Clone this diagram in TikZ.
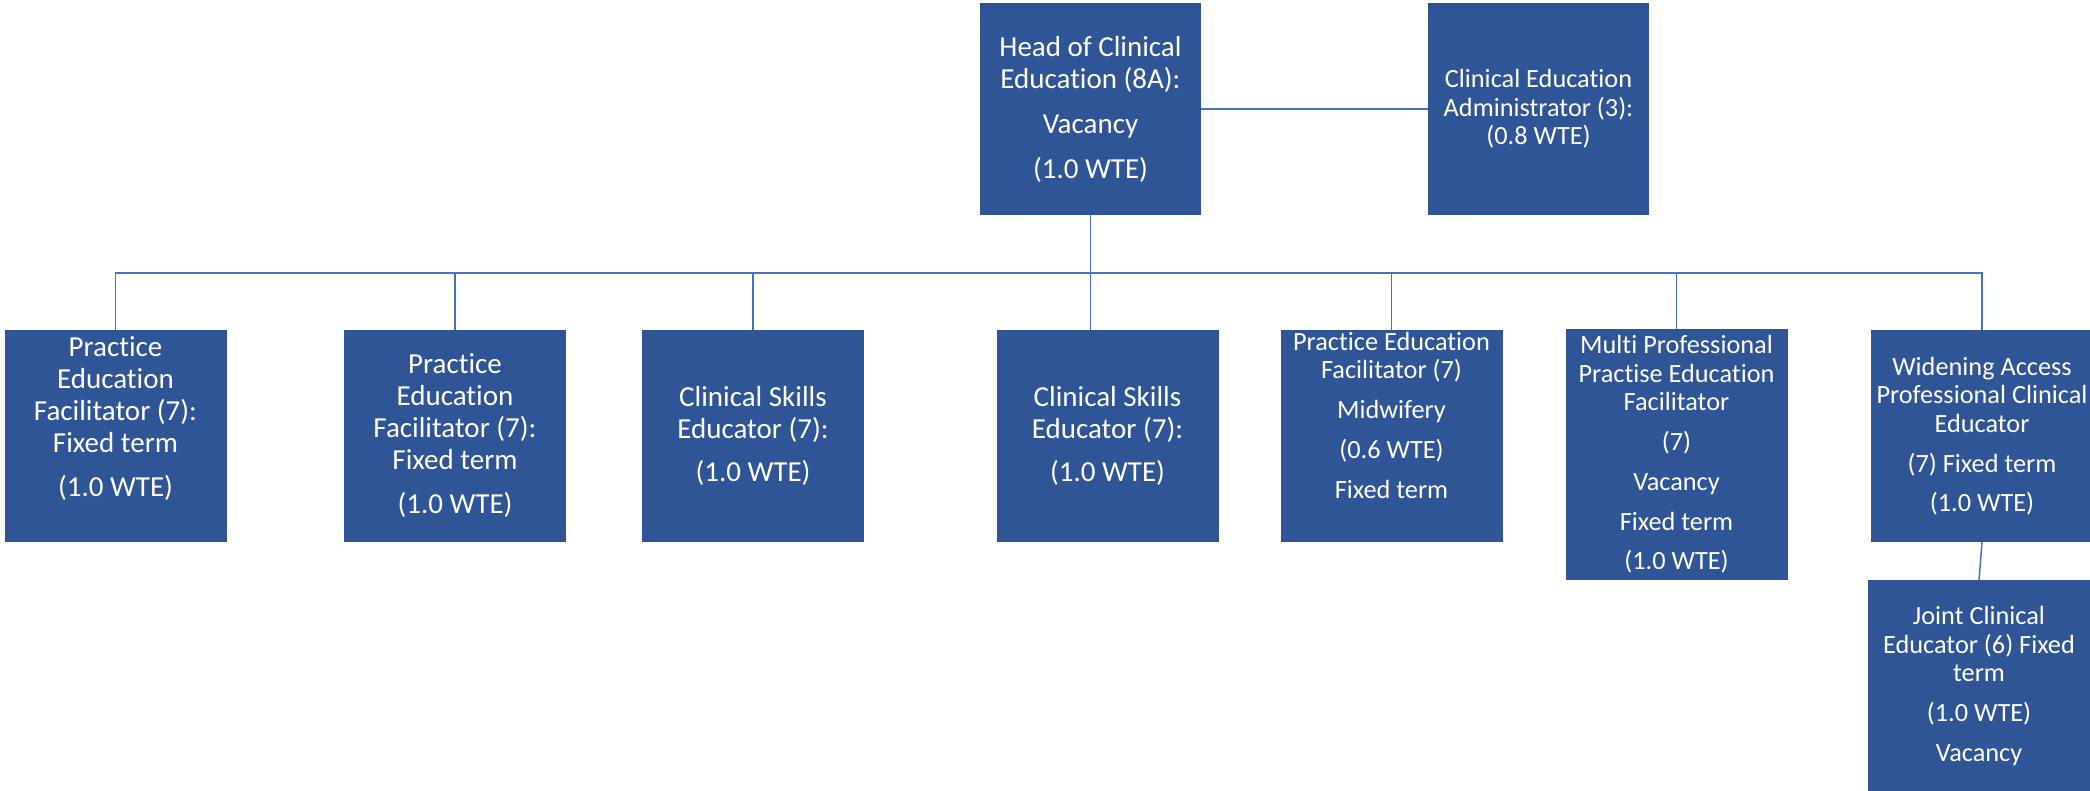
\documentclass[tikz,border=0pt]{standalone}
\usepackage{fontspec}
\setmainfont{Carlito}[Ligatures={NoCommon}]
\definecolor{boxblue}{HTML}{2F5597}
\definecolor{linkblue}{HTML}{4472C4}
\tikzset{
  orgbox/.style={rectangle, fill=boxblue, draw=none, inner sep=0pt, outer sep=0pt, minimum width=222pt, minimum height=212pt},
  bigtxt/.style={text=white, align=center, inner sep=0pt, font=\fontsize{29}{32}\selectfont},
  smalltxt/.style={text=white, align=center, inner sep=0pt, font=\fontsize{26.3}{28.5}\selectfont},
  link/.style={draw=linkblue, line width=1.5pt},
}
\begin{document}
\begin{tikzpicture}[x=1pt,y=-1pt]
\useasboundingbox (0,0) rectangle (2090,790);
\begin{scope}
\clip (0,0) rectangle (2090,790);
% boxes
\node[orgbox, minimum width=221pt] (head) at (1090.5,109) {};
\node[orgbox, minimum width=221pt] (admin) at (1538.5,109) {};
\node[orgbox] (b1) at (115.5,435.5) {};
\node[orgbox] (b2) at (455,435.5) {};
\node[orgbox] (b3) at (753,435.5) {};
\node[orgbox] (b4) at (1107.5,435.5) {};
\node[orgbox] (b5) at (1391.5,435.5) {};
\node[orgbox, minimum height=251pt] (b6) at (1676.5,454.5) {};
\node[orgbox] (b7) at (1982,436) {};
\node[orgbox] (b8) at (1979,686) {};
% texts
\node[bigtxt] (headt) at (head.center) {Head of Clinical\\Education (8A):\\[13pt]Vacancy\\[13pt](1.0 WTE)};
\node[smalltxt] (admint) at (admin.center) {Clinical Education\\Administrator (3):\\(0.8 WTE)};
\node[bigtxt] (b1t) at ([yshift=16.5pt]b1.center) {Practice\\Education\\Facilitator (7):\\Fixed term\\[12pt](1.0 WTE)};
\node[bigtxt] (b2t) at (b2.center) {Practice\\Education\\Facilitator (7):\\Fixed term\\[12pt](1.0 WTE)};
\node[bigtxt] (b3t) at (b3.center) {Clinical Skills\\Educator (7):\\[11pt](1.0 WTE)};
\node[bigtxt] (b4t) at (b4.center) {Clinical Skills\\Educator (7):\\[11pt](1.0 WTE)};
\node[smalltxt] (b5t) at ([yshift=20pt]b5.center) {Practice Education\\Facilitator (7)\\[11.5pt]Midwifery\\[11.5pt](0.6 WTE)\\[11.5pt]Fixed term};
\node[smalltxt] (b6t) at (b6.center) {Multi Professional\\Practise Education\\Facilitator\\[11.5pt](7)\\[11.5pt]Vacancy\\[11pt]Fixed term\\[11pt](1.0 WTE)};
\node[smalltxt] (b7t) at (b7.center) {Widening Access\\Professional Clinical\\Educator\\[11.5pt](7) Fixed term\\[11pt](1.0 WTE)};
\node[smalltxt] (b8t) at (b8.center) {Joint Clinical\\Educator (6) Fixed\\term\\[11.5pt](1.0 WTE)\\[11pt]Vacancy};
% connectors
\coordinate (busy) at (0,273);
\draw[link] (head.east) -- (admin.west);
\draw[link] (head.south) -- (head.south |- b4.north);
\draw[link] (b1.north) |- (b7.north |- busy) -- (b7.north);
\foreach \n in {b2,b3,b5,b6} {\draw[link] (\n.north) -- (\n.north |- busy);}
\draw[link] (b7.south) -- (b8.north);
\end{scope}
\end{tikzpicture}
\end{document}
